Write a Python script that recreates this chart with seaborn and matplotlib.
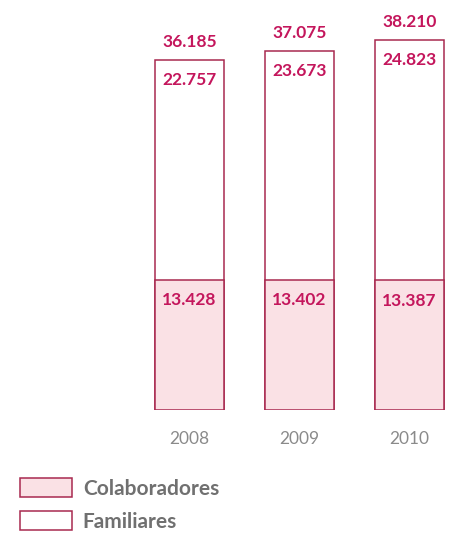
import matplotlib
matplotlib.use("Agg")
import matplotlib.pyplot as plt
from matplotlib.patches import Patch
import seaborn as sns
import pandas as pd

years = ["2008", "2009", "2010"]
colaboradores = [13428, 13402, 13387]
familiares = [22757, 23673, 24823]
totales = [36185, 37075, 38210]

MAG = "#C4165C"
EDGE = "#A8294F"
FILL = "#FAE1E5"
GRAY = "#707070"

def fmt(v):
    return f"{v:,}".replace(",", ".")

df = pd.DataFrame({"year": years, "col": colaboradores, "fam": familiares, "total": totales})

sns.set_style("white")
plt.rcParams["font.family"] = ["Lato", "DejaVu Sans"]

fig = plt.figure(figsize=(4.51, 5.36), dpi=100)
ax = fig.add_axes([123.5 / 451, (536 - 410) / 536, 324.5 / 451, 410 / 536])

sns.barplot(data=df, x="year", y="total", color="white", saturation=1,
            edgecolor=EDGE, linewidth=1.1, width=0.62, errorbar=None, ax=ax)
sns.barplot(data=df, x="year", y="col", color=FILL, saturation=1,
            edgecolor=EDGE, linewidth=1.1, width=0.62, errorbar=None, ax=ax)

ax.set_xlim(-0.6, 2.35)
ax.set_ylim(0, 42380)
for s in ax.spines.values():
    s.set_visible(False)
ax.set_yticks([])
ax.set_xlabel("")
ax.set_ylabel("")
ax.tick_params(axis="x", length=0, pad=15, labelsize=12.5, labelcolor="#8A8A8A")

for i in range(len(years)):
    ax.annotate(fmt(totales[i]), (i, totales[i]), xytext=(0, 13), textcoords="offset points",
                ha="center", va="center", color=MAG, fontsize=12.5, fontweight="bold")
    ax.annotate(fmt(familiares[i]), (i, totales[i]), xytext=(0, -14.5), textcoords="offset points",
                ha="center", va="center", color=MAG, fontsize=12.5, fontweight="bold")
    ax.annotate(fmt(colaboradores[i]), (i, colaboradores[i]), xytext=(0, -14.5), textcoords="offset points",
                ha="center", va="center", color=MAG, fontsize=12.5, fontweight="bold")

handles = [Patch(facecolor=FILL, edgecolor=EDGE, linewidth=1.1, label="Colaboradores"),
           Patch(facecolor="white", edgecolor=EDGE, linewidth=1.1, label="Familiares")]
leg = fig.legend(handles=handles, loc="upper left", bbox_to_anchor=(12 / 451, 1 - 470 / 536),
                 frameon=False, fontsize=15, handlelength=2.5, handleheight=1.0,
                 handletextpad=0.5, labelspacing=0.6, borderaxespad=0)
for t in leg.get_texts():
    t.set_color(GRAY)
    t.set_fontweight("bold")

fig.savefig("out.png", dpi=100)
